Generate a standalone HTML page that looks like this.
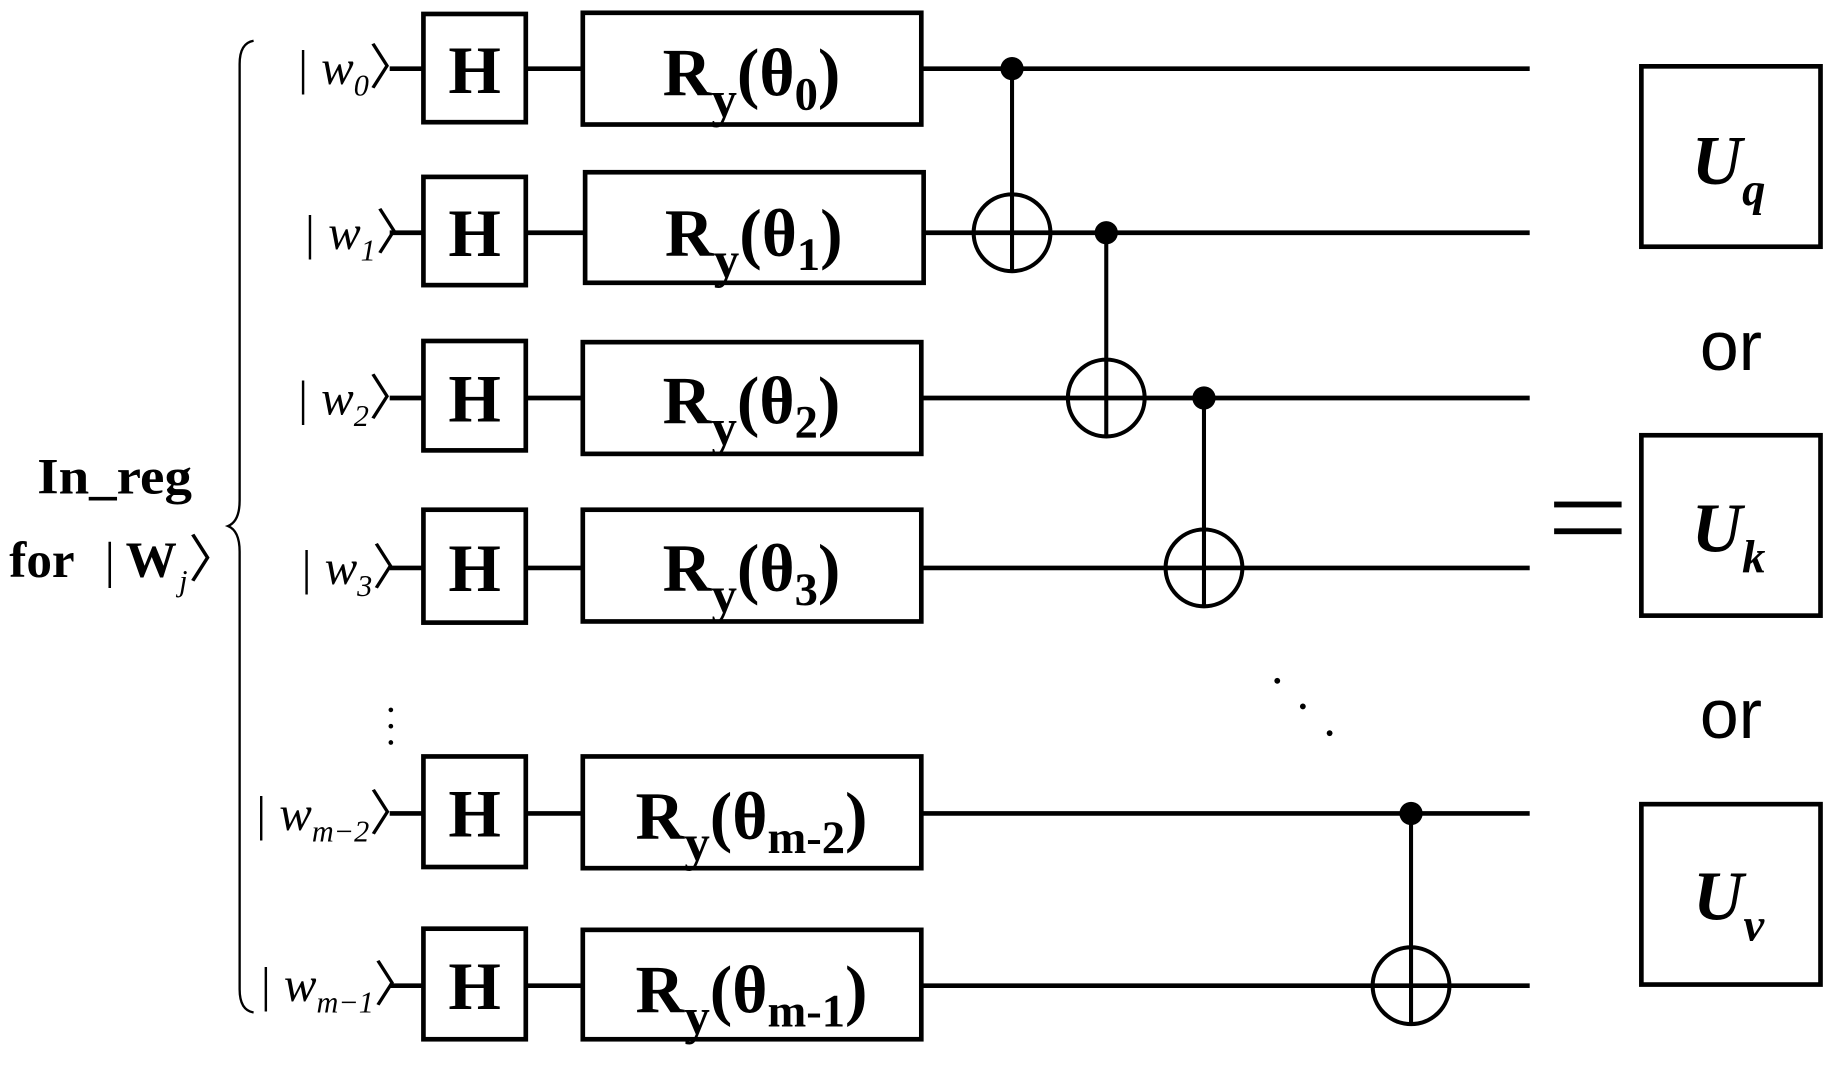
<!DOCTYPE html>
<html><head><meta charset="utf-8"><style>html,body{margin:0;padding:0;background:#fff}svg{display:block}</style></head>
<body>
<svg width="1824" height="1073" viewBox="0 0 1568 922" preserveAspectRatio="none" xmlns="http://www.w3.org/2000/svg">
<g stroke="#000" stroke-width="4" fill="none">
<line x1="335" y1="59" x2="1315" y2="59"/>
<line x1="335" y1="200" x2="1315" y2="200"/>
<line x1="335" y1="342" x2="1315" y2="342"/>
<line x1="335" y1="488" x2="1315" y2="488"/>
<line x1="335" y1="699" x2="1315" y2="699"/>
<line x1="335" y1="847" x2="1315" y2="847"/>
</g>
<g stroke="#000" stroke-width="4" fill="#fff">
<rect x="364" y="12" width="88" height="93"/>
<rect x="364" y="152" width="88" height="93"/>
<rect x="364" y="293" width="88" height="94"/>
<rect x="364" y="438" width="88" height="97"/>
<rect x="364" y="650" width="88" height="95"/>
<rect x="364" y="798" width="88" height="95"/>
<rect x="501" y="11" width="291" height="96"/>
<rect x="503" y="148" width="291" height="95"/>
<rect x="501" y="294" width="291" height="96"/>
<rect x="501" y="438" width="291" height="96"/>
<rect x="501" y="650" width="291" height="96"/>
<rect x="501" y="799" width="291" height="94"/>
<rect x="1411" y="57" width="154" height="155"/>
<rect x="1411" y="374" width="154" height="155"/>
<rect x="1411" y="691" width="154" height="155"/>
</g>
<g stroke="#000" stroke-width="3.5" fill="none">
<line x1="870" y1="59" x2="870" y2="233"/><circle cx="870" cy="200" r="33"/><line x1="837" y1="200" x2="903" y2="200"/>
<line x1="951" y1="200" x2="951" y2="375"/><circle cx="951" cy="342" r="33"/><line x1="918" y1="342" x2="984" y2="342"/>
<line x1="1035" y1="342" x2="1035" y2="521"/><circle cx="1035" cy="488" r="33"/><line x1="1002" y1="488" x2="1068" y2="488"/>
<line x1="1213" y1="699" x2="1213" y2="880"/><circle cx="1213" cy="847" r="33"/><line x1="1180" y1="847" x2="1246" y2="847"/>
<path d="M218,35 Q206,37 206,55 L206,430 Q206,448 196,452 Q206,456 206,474 L206,850 Q206,868 218,870" stroke-width="2"/>
</g>
<g fill="#000">
<circle cx="870" cy="59" r="10"/><circle cx="951" cy="200" r="10"/><circle cx="1035" cy="342" r="10"/><circle cx="1213" cy="699" r="10"/>
<circle cx="1098" cy="585" r="2.5"/><circle cx="1120" cy="607" r="2.5"/><circle cx="1143" cy="630" r="2.5"/>
<circle cx="336" cy="610" r="2"/><circle cx="336" cy="624" r="2"/><circle cx="336" cy="638" r="2"/>
<rect x="1336" y="431" width="58" height="5"/><rect x="1336" y="454" width="58" height="5"/>
</g>
<g font-family="Liberation Serif, serif" font-weight="bold" font-size="58" text-anchor="middle">
<text x="408" y="80">H</text><text x="408" y="220">H</text><text x="408" y="362">H</text><text x="408" y="508">H</text><text x="408" y="719">H</text><text x="408" y="867">H</text>
</g>
<g font-family="Liberation Serif, serif" font-weight="bold" font-size="58" text-anchor="middle">
<text x="646" y="82">R<tspan font-size="44" dy="18">y</tspan><tspan dy="-18">(θ</tspan><tspan font-size="40" dy="12">0</tspan><tspan dy="-12">)</tspan></text>
<text x="648" y="220">R<tspan font-size="44" dy="18">y</tspan><tspan dy="-18">(θ</tspan><tspan font-size="40" dy="12">1</tspan><tspan dy="-12">)</tspan></text>
<text x="646" y="364">R<tspan font-size="44" dy="18">y</tspan><tspan dy="-18">(θ</tspan><tspan font-size="40" dy="12">2</tspan><tspan dy="-12">)</tspan></text>
<text x="646" y="508">R<tspan font-size="44" dy="18">y</tspan><tspan dy="-18">(θ</tspan><tspan font-size="40" dy="12">3</tspan><tspan dy="-12">)</tspan></text>
<text x="646" y="721">R<tspan font-size="44" dy="18">y</tspan><tspan dy="-18">(θ</tspan><tspan font-size="40" dy="12">m-2</tspan><tspan dy="-12">)</tspan></text>
<text x="646" y="870">R<tspan font-size="44" dy="18">y</tspan><tspan dy="-18">(θ</tspan><tspan font-size="40" dy="12">m-1</tspan><tspan dy="-12">)</tspan></text>
</g>
<text x="32" y="424" font-family="Liberation Serif, serif" font-weight="bold" font-size="44" textLength="133" lengthAdjust="spacingAndGlyphs">In_reg</text>
<g font-family="Liberation Serif, serif" font-size="42" font-style="italic">
<text x="254" y="72">| w<tspan font-size="26" dy="10">0</tspan><tspan dy="-10" font-style="normal">〉</tspan></text>
<text x="260" y="214">| w<tspan font-size="26" dy="10">1</tspan><tspan dy="-10" font-style="normal">〉</tspan></text>
<text x="254" y="356">| w<tspan font-size="26" dy="10">2</tspan><tspan dy="-10" font-style="normal">〉</tspan></text>
<text x="257" y="502">| w<tspan font-size="26" dy="10">3</tspan><tspan dy="-10" font-style="normal">〉</tspan></text>
<text x="218" y="713">| w<tspan font-size="26" dy="10">m−2</tspan><tspan dy="-10" font-style="normal">〉</tspan></text>
<text x="222" y="860">| w<tspan font-size="26" dy="10">m−1</tspan><tspan dy="-10" font-style="normal">〉</tspan></text>
</g>
<g font-family="Liberation Serif, serif" font-size="44">
<text x="8" y="496" font-weight="bold">for</text>
<text x="90" y="496">|</text>
<text x="108" y="496" font-weight="bold">W</text>
<text x="154" y="508" font-size="26" font-style="italic">j</text>
<text x="162" y="496">〉</text>
</g>
<g font-family="Liberation Serif, serif" font-weight="bold" font-style="italic" font-size="60" text-anchor="middle">
<text x="1486" y="158">U<tspan font-size="40" dy="18">q</tspan></text>
<text x="1486" y="474">U<tspan font-size="40" dy="18">k</tspan></text>
<text x="1486" y="790">U<tspan font-size="40" dy="18">v</tspan></text>
</g>
<g font-family="Liberation Sans, sans-serif" font-size="60" text-anchor="middle">
<text x="1488" y="318">or</text><text x="1488" y="634">or</text>
</g>
</svg>
</body></html>
